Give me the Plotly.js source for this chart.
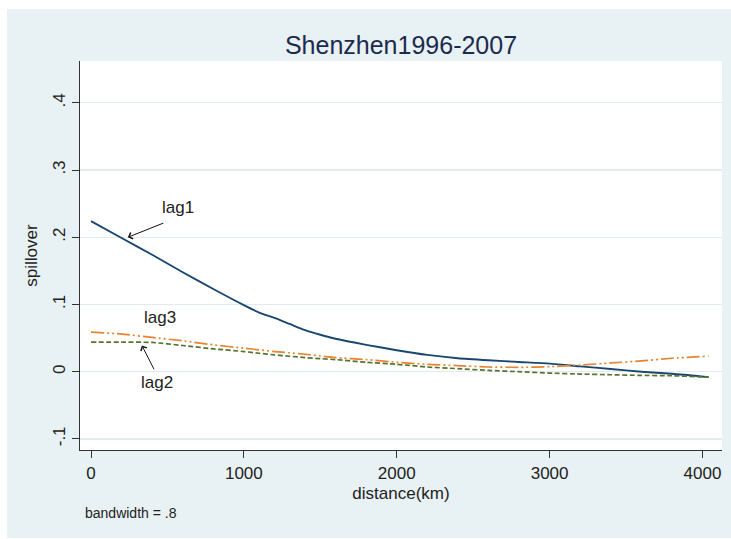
<!DOCTYPE html>
<html>
<head>
<meta charset="utf-8">
<script src="https://cdn.plot.ly/plotly-3.0.1.min.js"></script>
<style>html,body{margin:0;padding:0;background:#fff;}#chart{width:731px;height:539px;}</style>
</head>
<body>
<div id="chart"></div>
<script>
// distance (km)
const distance = [0, 200, 400, 600, 800, 1000, 1100, 1200, 1300, 1400, 1500, 1600, 1800, 2000, 2200, 2400, 2600, 2800, 3000, 3200, 3400, 3600, 3800, 4040];
// spillover by lag
const lag1 = [0.224, 0.199, 0.174, 0.148, 0.123, 0.099, 0.088, 0.080, 0.071, 0.062, 0.055, 0.049, 0.040, 0.032, 0.025, 0.020, 0.017, 0.0145, 0.012, 0.008, 0.004, 0.000, -0.003, -0.008];
const lag2 = [0.044, 0.044, 0.0435, 0.039, 0.034, 0.030, 0.0275, 0.025, 0.023, 0.021, 0.0195, 0.018, 0.014, 0.011, 0.007, 0.0045, 0.002, 0.000, -0.002, -0.0035, -0.0045, -0.0055, -0.006, -0.008];
const lag3 = [0.059, 0.056, 0.051, 0.046, 0.040, 0.035, 0.0325, 0.030, 0.028, 0.026, 0.0235, 0.021, 0.018, 0.014, 0.011, 0.009, 0.007, 0.0065, 0.0075, 0.010, 0.013, 0.016, 0.020, 0.023];

const xTickVals = [0, 1000, 2000, 3000, 4000];
const xTickText = ["0", "1000", "2000", "3000", "4000"];
const yTickVals = [-0.1, 0, 0.1, 0.2, 0.3, 0.4];
const yTickText = ["-.1", "0", ".1", ".2", ".3", ".4"];

const chartTitle = "Shenzhen1996-2007";
const xTitle = "distance(km)";
const yTitle = "spillover";
const note = "bandwidth = .8";

// label positions (data units)
const labelNames = ["lag1", "lag3", "lag2"];
const labelX = [567, 450, 430];
const labelY = [0.245, 0.081, -0.016];

const FONT = "Liberation Sans, Arial, sans-serif";
const BG = "#e8f1f3";

const traces = [
  {x: distance, y: lag1, mode: "lines", name: "lag1", line: {color: "#1a476f", width: 1.9, shape: "spline", smoothing: 0.6}},
  {x: distance, y: lag2, mode: "lines", name: "lag2", line: {color: "#55752f", width: 1.7, dash: "5px,2.5px", shape: "spline", smoothing: 0.6}},
  {x: distance, y: lag3, mode: "lines", name: "lag3", line: {color: "#e8832f", width: 1.7, dash: "13px,3px,2px,3px,2px,3px", shape: "spline", smoothing: 0.6}}
];

const pw = 642, ph = 389, ml = 80, mt = 61;
function px2paperX(p) { return (p - ml) / pw; }
function px2paperY(p) { return (mt + ph - p) / ph; }

const annotations = labelNames.map((t, i) => ({
  x: labelX[i], y: labelY[i], xref: "x", yref: "y", text: t, showarrow: false,
  font: {family: FONT, size: 17, color: "#222"}
}));
// arrows
annotations.push({x: 241, y: 0.200, xref: "x", yref: "y", ax: 483, ay: 0.222, axref: "x", ayref: "y",
  text: "", showarrow: true, arrowhead: 4, arrowsize: 1.3, arrowwidth: 1, arrowcolor: "#111"});
annotations.push({x: 333, y: 0.039, xref: "x", yref: "y", ax: 417, ay: 0.0015, axref: "x", ayref: "y",
  text: "", showarrow: true, arrowhead: 4, arrowsize: 1.3, arrowwidth: 1, arrowcolor: "#111"});
annotations.push({x: px2paperX(83), y: px2paperY(513), xref: "paper", yref: "paper", xanchor: "left", yanchor: "middle",
  text: note, showarrow: false, font: {family: FONT, size: 14, color: "#222"}});

const layout = {
  width: 731, height: 539,
  margin: {l: ml, r: 731 - ml - pw, t: mt, b: 539 - mt - ph, pad: 0},
  paper_bgcolor: "#ffffff",
  plot_bgcolor: "#ffffff",
  showlegend: false,
  font: {family: FONT, color: "#222"},
  title: {text: chartTitle, x: 0.5, xref: "paper", y: 1 - 45 / 539, yref: "container", yanchor: "middle",
    font: {family: FONT, size: 25, color: "#1c2b4d"}},
  xaxis: {
    range: [-72, 4128], tickvals: xTickVals, ticktext: xTickText,
    showgrid: false, zeroline: false, showline: true, linecolor: "#333", linewidth: 1.2,
    ticks: "outside", ticklen: 7, tickcolor: "#333", tickwidth: 1,
    tickfont: {family: FONT, size: 17, color: "#222"},
    title: {text: xTitle, font: {family: FONT, size: 17, color: "#222"}, standoff: 5}
  },
  yaxis: {
    range: [-0.1165, 0.4623], tickvals: yTickVals, ticktext: yTickText, tickangle: -90,
    showgrid: true, gridcolor: "#e2ecf0", gridwidth: 1.2, zeroline: false,
    showline: true, linecolor: "#333", linewidth: 1.2,
    ticks: "outside", ticklen: 7, tickcolor: "#333", tickwidth: 1,
    tickfont: {family: FONT, size: 17, color: "#222"},
    title: {text: yTitle, font: {family: FONT, size: 17, color: "#222"}, standoff: 8}
  },
  shapes: [
    {type: "rect", xref: "paper", yref: "paper", layer: "below",
      x0: px2paperX(7), x1: px2paperX(735), y0: px2paperY(538), y1: px2paperY(9),
      fillcolor: BG, line: {width: 0}},
    {type: "rect", xref: "paper", yref: "paper", layer: "below",
      x0: 0, x1: 1, y0: 0, y1: 1, fillcolor: "#ffffff", line: {width: 0}}
  ],
  annotations: annotations
};

Plotly.newPlot("chart", traces, layout, {displayModeBar: false, staticPlot: true});
</script>
</body>
</html>
